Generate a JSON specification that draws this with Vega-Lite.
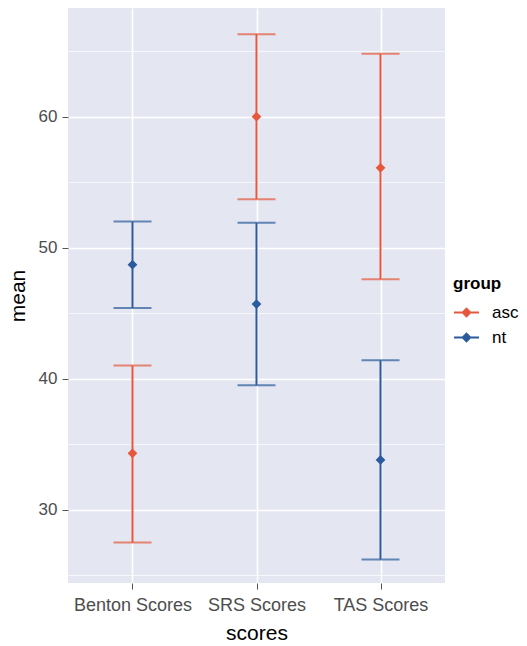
{
  "$schema": "https://vega.github.io/schema/vega-lite/v6.json",
  "width": 377,
  "height": 575,
  "autosize": "none",
  "padding": {"left": 68, "top": 8, "right": 82, "bottom": 63},
  "background": "white",
  "config": {
    "view": {"fill": "#E4E6F1", "stroke": null},
    "font": "Liberation Sans"
  },
  "data": {
    "values": [
      {"scores": "Benton Scores", "group": "asc", "mean": 34.3, "lower": 27.5, "upper": 41.0},
      {"scores": "Benton Scores", "group": "nt", "mean": 48.7, "lower": 45.4, "upper": 52.0},
      {"scores": "SRS Scores", "group": "asc", "mean": 60.0, "lower": 53.7, "upper": 66.3},
      {"scores": "SRS Scores", "group": "nt", "mean": 45.7, "lower": 39.5, "upper": 51.9},
      {"scores": "TAS Scores", "group": "asc", "mean": 56.1, "lower": 47.6, "upper": 64.8},
      {"scores": "TAS Scores", "group": "nt", "mean": 33.8, "lower": 26.2, "upper": 41.4}
    ]
  },
  "encoding": {
    "x": {
      "field": "scores", "type": "nominal",
      "scale": {"type": "point", "padding": 0.52},
      "axis": {
        "title": "scores", "titleFontSize": 21, "titleFontWeight": "normal", "titleColor": "#000000", "titlePadding": 8,
        "labelAngle": 0, "labelFontSize": 18, "labelColor": "#4D4D4D", "labelPadding": 7,
        "tickSize": 6, "tickColor": "#555555", "tickWidth": 1,
        "domain": false, "grid": true, "gridColor": "#FFFFFF", "gridWidth": 1.6
      }
    },
    "color": {
      "field": "group", "type": "nominal",
      "scale": {"domain": ["asc", "nt"], "range": ["#E5583D", "#2B5B9C"]},
      "legend": {
        "title": "group", "orient": "none", "legendX": 385, "legendY": 268,
        "titleFontSize": 17, "titleFontWeight": "bold", "titleColor": "#000000", "titlePadding": 6,
        "labelFontSize": 17, "labelColor": "#000000", "labelOffset": 12,
        "symbolSize": 625, "rowPadding": 3,
        "symbolType": "M-1,0L1,0M-0.3,0L0,-0.3L0.3,0L0,0.3Z",
        "encode": {
          "symbols": {
            "update": {
              "stroke": {"scale": "color", "field": "value"},
              "fill": {"scale": "color", "field": "value"},
              "strokeWidth": {"value": 2}
            }
          }
        }
      }
    }
  },
  "layer": [
    {
      "mark": {"type": "rule", "strokeWidth": 2},
      "encoding": {
        "y": {
          "field": "lower", "type": "quantitative",
          "scale": {"domain": [24.4, 68.3], "nice": false, "zero": false},
          "axis": {
            "title": "mean", "titleFontSize": 21, "titleFontWeight": "normal", "titleColor": "#000000", "titlePadding": 10,
            "values": [25, 30, 35, 40, 45, 50, 55, 60, 65],
            "labelExpr": "datum.value % 10 === 0 ? datum.label : ''",
            "labelFontSize": 17, "labelColor": "#4D4D4D", "labelPadding": 5,
            "tickSize": 6, "tickColor": "#555555",
            "tickOpacity": {"condition": {"test": "datum.value % 10 === 0", "value": 1}, "value": 0},
            "domain": false, "grid": true, "gridColor": "#FFFFFF",
            "gridWidth": {"condition": {"test": "datum.value % 10 === 0", "value": 1.6}, "value": 0.7}
          }
        },
        "y2": {"field": "upper"}
      }
    },
    {
      "mark": {"type": "tick", "thickness": 2, "size": 38},
      "encoding": {"y": {"field": "upper", "type": "quantitative"}}
    },
    {
      "mark": {"type": "tick", "thickness": 2, "size": 38},
      "encoding": {"y": {"field": "lower", "type": "quantitative"}}
    },
    {
      "mark": {"type": "point", "filled": true, "shape": "diamond", "size": 95, "opacity": 1},
      "encoding": {"y": {"field": "mean", "type": "quantitative"}}
    }
  ]
}
